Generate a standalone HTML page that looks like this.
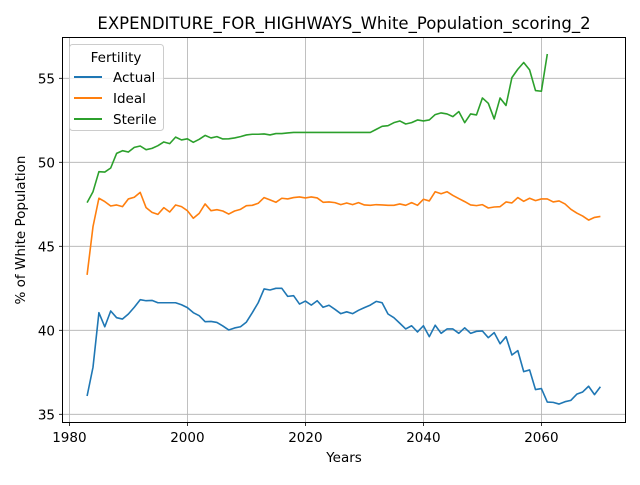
<!DOCTYPE html>
<html><head><meta charset="utf-8"><style>
html,body{margin:0;padding:0;background:#fff;}
svg text{font-family:"DejaVu Sans","Liberation Sans",sans-serif;}
</style></head><body>
<svg id="chart" width="640" height="480" viewBox="0 0 640 480" xmlns="http://www.w3.org/2000/svg">
<rect width="640" height="480" fill="#fff"/>
<text x="344" y="29" font-size="16.5" text-anchor="middle" fill="#000">EXPENDITURE_FOR_HIGHWAYS_White_Population_scoring_2</text>
<g id="grid"></g>
<g id="series"></g>
<rect x="62.5" y="37.5" width="563" height="385" fill="none" stroke="#000" stroke-width="1"/>
<g id="ticks"></g>
<text x="344" y="462" font-size="13.5" text-anchor="middle">Years</text>
<text x="0" y="0" font-size="13.5" text-anchor="middle" transform="translate(25,230) rotate(-90)">% of White Population</text>
<g>
<rect x="69.5" y="44.5" width="94" height="86" rx="3" fill="#fff" fill-opacity="0.8" stroke="#ccc"/>
<text x="116" y="62" font-size="13.5" text-anchor="middle">Fertility</text>
<line x1="74" y1="77" x2="102" y2="77" stroke="#1f77b4" stroke-width="2"/>
<text x="113" y="82" font-size="13.5">Actual</text>
<line x1="74" y1="98" x2="102" y2="98" stroke="#ff7f0e" stroke-width="2"/>
<text x="113" y="103" font-size="13.5">Ideal</text>
<line x1="74" y1="119" x2="102" y2="119" stroke="#2ca02c" stroke-width="2"/>
<text x="113" y="124" font-size="13.5">Sterile</text>
</g>
</svg>
<script>
const startYear = 1983;
const actual = [36.09,37.8,41.05,40.21,41.15,40.75,40.67,40.97,41.37,41.82,41.76,41.78,41.64,41.64,41.64,41.64,41.52,41.35,41.05,40.87,40.51,40.53,40.47,40.26,40.02,40.14,40.21,40.49,41.05,41.64,42.46,42.4,42.5,42.5,42.02,42.06,41.56,41.74,41.5,41.76,41.37,41.49,41.25,40.99,41.1,40.99,41.19,41.35,41.5,41.72,41.64,40.97,40.75,40.42,40.08,40.27,39.9,40.27,39.62,40.3,39.82,40.08,40.08,39.82,40.15,39.82,39.94,39.96,39.56,39.86,39.2,39.62,38.53,38.79,37.54,37.64,36.47,36.53,35.73,35.71,35.61,35.75,35.83,36.2,36.33,36.67,36.17,36.64];
const ideal = [43.3,46.17,47.86,47.66,47.4,47.46,47.36,47.82,47.92,48.21,47.3,47.02,46.9,47.3,47.04,47.46,47.36,47.12,46.67,46.96,47.52,47.12,47.18,47.1,46.92,47.1,47.2,47.42,47.44,47.56,47.9,47.76,47.62,47.86,47.82,47.9,47.94,47.88,47.94,47.88,47.62,47.64,47.6,47.48,47.58,47.48,47.6,47.46,47.44,47.48,47.46,47.44,47.44,47.52,47.44,47.6,47.44,47.8,47.7,48.25,48.13,48.25,48.03,47.84,47.66,47.46,47.42,47.48,47.28,47.34,47.36,47.64,47.58,47.9,47.68,47.86,47.72,47.82,47.82,47.64,47.7,47.52,47.2,46.98,46.8,46.56,46.72,46.78];
const sterile = [47.6,48.25,49.44,49.42,49.66,50.53,50.69,50.61,50.89,50.97,50.75,50.83,50.99,51.21,51.11,51.5,51.33,51.4,51.19,51.37,51.6,51.45,51.53,51.39,51.4,51.45,51.53,51.63,51.67,51.67,51.69,51.63,51.71,51.71,51.75,51.78,51.78,51.78,51.78,51.78,51.78,51.78,51.78,51.78,51.78,51.78,51.78,51.78,51.78,51.96,52.14,52.18,52.36,52.46,52.28,52.36,52.52,52.46,52.52,52.84,52.94,52.88,52.72,53.02,52.36,52.88,52.82,53.83,53.51,52.58,53.83,53.38,55.04,55.54,55.94,55.5,54.27,54.23,56.45];
const xTicks = [1980,2000,2020,2040,2060];
const yTicks = [35,40,45,50,55];

const NS = "http://www.w3.org/2000/svg";
function xS(yr){ return 69.4 + (yr-1980)*5.9; }
function yS(v){ return 330.3 - (v-40)*16.8; }
function mk(tag, attrs, parent){ const e=document.createElementNS(NS,tag); for(const k in attrs) e.setAttribute(k,attrs[k]); parent.appendChild(e); return e; }
const grid=document.getElementById('grid'), ticks=document.getElementById('ticks'), series=document.getElementById('series');
xTicks.forEach(t=>{
  const x=xS(t);
  const g=mk('line',{x1:x,y1:37.5,x2:x,y2:422.5,stroke:'#b0b0b0','stroke-width':0.8},grid);
  
  
  const tk=mk('line',{x1:x,y1:422.5,x2:x,y2:426,stroke:'#000','stroke-width':0.8},ticks);
  
  
  const tl=mk('text',{x:x,y:442,'font-size':13.5,'text-anchor':'middle'},ticks);
  tl.textContent=t;
  
  
});
yTicks.forEach(t=>{
  const y=yS(t);
  const g=mk('line',{x1:62.5,y1:y,x2:625.5,y2:y,stroke:'#b0b0b0','stroke-width':0.8},grid);
  
  
  const tk=mk('line',{x1:59,y1:y,x2:62.5,y2:y,stroke:'#000','stroke-width':0.8},ticks);
  
  
  const tl=mk('text',{x:55,y:y+5,'font-size':13.5,'text-anchor':'end'},ticks);
  tl.textContent=t;
  
  
});
function draw(arr,color,name){
  const pts=arr.map((v,i)=>xS(startYear+i).toFixed(2)+','+yS(v).toFixed(2)).join(' ');
  const p=mk('polyline',{points:pts,fill:'none',stroke:color,'stroke-width':1.6,'stroke-linejoin':'round'},series);
  
  
}
draw(actual,'#1f77b4','actual-line');
draw(ideal,'#ff7f0e','ideal-line');
draw(sterile,'#2ca02c','sterile-line');
</script>
</body></html>
